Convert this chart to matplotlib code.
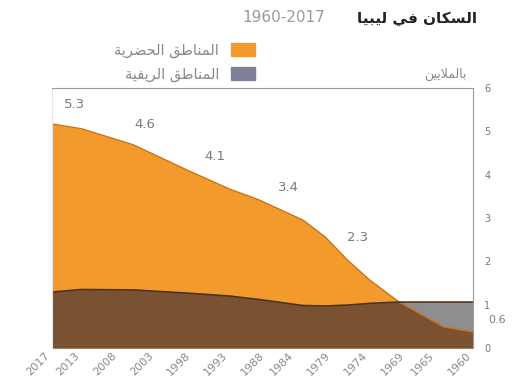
import numpy as np
import matplotlib
matplotlib.use("Agg")
import matplotlib.pyplot as plt
from matplotlib.patches import Patch

# --- data (millions) ---
years = [1960, 1964, 1970, 1974, 1977, 1980, 1983, 1989, 1993, 1999, 2006, 2013, 2017]
urban = [0.37, 0.49, 1.06, 1.57, 2.03, 2.56, 2.95, 3.42, 3.67, 4.13, 4.69, 5.06, 5.17]
rural = [1.06, 1.06, 1.06, 1.03, 0.99, 0.97, 0.98, 1.12, 1.20, 1.27, 1.34, 1.35, 1.29]

tick_years = [2017, 2013, 2008, 2003, 1998, 1993, 1988, 1984, 1979, 1974, 1969, 1965, 1960]
label_vals = ["5.3", "4.6", "4.1", "3.4", "2.3"]
label_pos = [(2013.9, 5.61), (2004.4, 5.15), (1994.9, 4.41), (1985.0, 3.70), (1975.6, 2.56)]

title_ar = "السكان في ليبيا"
title_num = "1960-2017"
leg_urban = "المناطق الحضرية"
leg_rural = "المناطق الريفية"
unit_ar = "بالملايين"

# --- tiny arabic shaper (matplotlib has no bidi / shaping) ---
FORMS = {
    'ا': (0xFE8D, 0xFE8E), 'ب': (0xFE8F, 0xFE90, 0xFE91, 0xFE92),
    'ة': (0xFE93, 0xFE94), 'ت': (0xFE95, 0xFE96, 0xFE97, 0xFE98),
    'ح': (0xFEA1, 0xFEA2, 0xFEA3, 0xFEA4), 'د': (0xFEA9, 0xFEAA),
    'ر': (0xFEAD, 0xFEAE), 'س': (0xFEB1, 0xFEB2, 0xFEB3, 0xFEB4),
    'ض': (0xFEBD, 0xFEBE, 0xFEBF, 0xFEC0), 'ط': (0xFEC1, 0xFEC2, 0xFEC3, 0xFEC4),
    'ف': (0xFED1, 0xFED2, 0xFED3, 0xFED4), 'ق': (0xFED5, 0xFED6, 0xFED7, 0xFED8),
    'ك': (0xFED9, 0xFEDA, 0xFEDB, 0xFEDC), 'ل': (0xFEDD, 0xFEDE, 0xFEDF, 0xFEE0),
    'م': (0xFEE1, 0xFEE2, 0xFEE3, 0xFEE4), 'ن': (0xFEE5, 0xFEE6, 0xFEE7, 0xFEE8),
    'ي': (0xFEF1, 0xFEF2, 0xFEF3, 0xFEF4),
}


def dual(c):
    return c in FORMS and len(FORMS[c]) == 4


def shape(s):
    out = []
    i = 0
    while i < len(s):
        c = s[i]
        if c not in FORMS:
            out.append(c)
            i += 1
            continue
        prev_join = i > 0 and dual(s[i - 1])
        if c == 'ل' and i + 1 < len(s) and s[i + 1] == 'ا':
            out.append(chr(0xFEFC if prev_join else 0xFEFB))
            i += 2
            continue
        next_join = dual(c) and i + 1 < len(s) and s[i + 1] in FORMS
        f = FORMS[c]
        if prev_join and next_join:
            out.append(chr(f[3]))
        elif prev_join:
            out.append(chr(f[1]))
        elif next_join:
            out.append(chr(f[2]))
        else:
            out.append(chr(f[0]))
        i += 1
    return "".join(out)[::-1]


plt.rcParams['font.family'] = ['DejaVu Sans']

fig = plt.figure(figsize=(5.2, 3.89), dpi=100)
ax = fig.add_axes([0.1, 0.1054, 0.8096, 0.6684])

x = np.array(years)
u = np.array(urban)
r = np.array(rural)
orange = '#f39a2c'
grey = '#8e8e8e'
brown = '#7a5231'

ax.fill_between(x, 0, u, color=orange, lw=0)
ax.fill_between(x, 0, r, color=grey, lw=0)
ax.fill_between(x, 0, np.minimum(u, r), color=brown, lw=0)
ax.plot(x, u, color='#c77418', lw=1)
ax.plot(x, r, color='#4a3220', lw=1.2)

for v, (px, py) in zip(label_vals, label_pos):
    ax.text(px, py, v, color='#7a7a7a', fontsize=9.5, ha='center', va='center')
ax.annotate("0.6", xy=(1.057, 0.65), xycoords=('axes fraction', 'data'),
            color='#7a7a7a', fontsize=8, ha='center', va='center', annotation_clip=False)

ax.set_xlim(2017, 1960)
ax.set_ylim(0, 6)
ax.set_xticks(tick_years)
ax.set_xticklabels([str(t) for t in tick_years], rotation=45, ha='right',
                   fontsize=8, color='#8a8a8a')
ax.yaxis.tick_right()
ax.set_yticks(range(7))
ax.tick_params(axis='y', labelsize=7, labelcolor='#777777', length=0, pad=8)
ax.tick_params(axis='x', length=0, pad=2)
for s in ['top', 'right']:
    ax.spines[s].set_color('#9a9a9a')
ax.spines['left'].set_color('#e6e6e6')
ax.spines['bottom'].set_visible(False)

fig.text(477 / 520, 1 - 18 / 389, shape(title_ar), ha='right', va='center',
         fontsize=11, fontweight='bold', color='#222222')
fig.text(325 / 520, 1 - 18 / 389, title_num, ha='right', va='center',
         fontsize=11, color='#9a9a9a')
fig.text(467 / 520, 1 - 74 / 389, shape(unit_ar), ha='right', va='center',
         fontsize=9, color='#888888')

handles = [Patch(color=orange), Patch(color='#7e7f98')]
fig.legend(handles, [shape(leg_urban), shape(leg_rural)], markerfirst=False,
           frameon=False, loc='upper right', bbox_to_anchor=(262 / 520, 1 - 35 / 389),
           fontsize=10.5, labelcolor='#8a8a8a', handlelength=1.65, handleheight=1.05,
           labelspacing=0.6, handletextpad=0.8, borderpad=0)

plt.savefig('out.png', dpi=100)
